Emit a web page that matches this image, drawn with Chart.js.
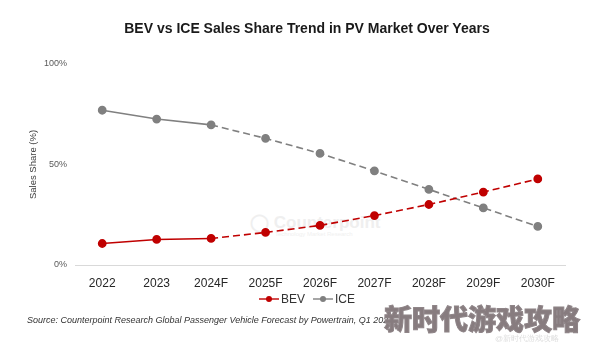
<!DOCTYPE html>
<html>
<head>
<meta charset="utf-8">
<script src="https://cdn.jsdelivr.net/npm/chart.js@4/dist/chart.umd.min.js"></script>
<style>
  html, body { margin: 0; padding: 0; background: #fff; }
  #wrap { position: relative; width: 594px; height: 343px; overflow: hidden; font-family: "Liberation Sans", Arial, sans-serif; }
  #chart { position: absolute; left: 0; top: 0; }
  .title { position: absolute; left: 0; width: 614px; top: 20px; text-align: center; font-weight: bold; font-size: 14px; color: #1a1a1a; }
  .legend { position: absolute; top: 292px; left: 259px; font-size: 12px; color: #333; display: flex; align-items: center; }
  .legend .item { display: flex; align-items: center; margin-right: 8px; }
  .legend canvas { margin-right: 2px; }
  .source { position: absolute; left: 27px; top: 315px; font-size: 9px; font-style: italic; color: #333; white-space: nowrap; }
  .logo { position: absolute; left: 250px; top: 212px; color: #efefef; font-weight: bold; font-size: 17px; }
  .logo small { display: block; font-size: 6px; font-weight: normal; margin-left: 25px; margin-top: -2px; color: #f0f0f0; }
  .wm { position: absolute; left: 384px; top: 298px; font-family: "Noto Sans CJK SC", sans-serif; font-weight: 900; font-size: 28px; color: #877c7f; -webkit-text-stroke: 1px #8f8588; white-space: nowrap; }
  .wm2 { position: absolute; left: 495px; top: 333px; font-size: 8px; color: #ddd; white-space: nowrap; }
</style>
</head>
<body>
<div id="wrap">
  <div class="logo">◯ Counterpoint<small>Technology Market Research</small></div>
  <canvas id="chart" width="594" height="343"></canvas>
  <div class="title">BEV vs ICE Sales Share Trend in PV Market Over Years</div>
  <div class="legend" id="legend"></div>
  <div class="source">Source: Counterpoint Research Global Passenger Vehicle Forecast by Powertrain, Q1 2024</div>
  <div class="wm">新时代游戏攻略</div>
  <div class="wm2">@新时代游戏攻略</div>
</div>
<script>
// Chart data
const years = ['2022', '2023', '2024F', '2025F', '2026F', '2027F', '2028F', '2029F', '2030F'];
const bevShare = [10.7, 12.7, 13.2, 16.2, 19.7, 24.6, 30.1, 36.3, 42.8];
const iceShare = [77.0, 72.6, 69.7, 63.0, 55.5, 46.8, 37.6, 28.4, 19.2];
const yTicks = [0, 50, 100];

const BEV_COLOR = '#C00000';
const ICE_COLOR = '#808080';
const LAST_ACTUAL = 2; // index of 2024F, dashed after this

function seriesStyle(color) {
  return {
    borderColor: color,
    backgroundColor: color,
    pointBackgroundColor: color,
    pointBorderColor: color,
    pointRadius: 3.6,
    pointHoverRadius: 3.6,
    borderWidth: 1.6,
    tension: 0,
    fill: false,
    segment: {
      borderDash: (ctx) => (ctx.p0DataIndex >= LAST_ACTUAL ? [7, 4] : undefined)
    }
  };
}

// small line+dot icon for the legend
function legendIcon(color) {
  const c = document.createElement('canvas');
  c.width = 20;
  c.height = 10;
  const g = c.getContext('2d');
  g.strokeStyle = color;
  g.lineWidth = 1.4;
  g.beginPath();
  g.moveTo(0, 5);
  g.lineTo(20, 5);
  g.stroke();
  g.fillStyle = color;
  g.beginPath();
  g.arc(10, 5, 3, 0, Math.PI * 2);
  g.fill();
  return c;
}

const legendEl = document.getElementById('legend');
[['BEV', BEV_COLOR], ['ICE', ICE_COLOR]].forEach(([name, color]) => {
  const item = document.createElement('div');
  item.className = 'item';
  item.appendChild(legendIcon(color));
  item.appendChild(document.createTextNode(name));
  legendEl.appendChild(item);
});

new Chart(document.getElementById('chart'), {
  type: 'line',
  data: {
    labels: years,
    datasets: [
      { label: 'BEV', data: bevShare, ...seriesStyle(BEV_COLOR) },
      { label: 'ICE', data: iceShare, ...seriesStyle(ICE_COLOR) }
    ]
  },
  options: {
    responsive: false,
    animation: false,
    layout: { padding: { top: 64, right: 29, bottom: 0, left: 0 } },
    plugins: {
      legend: { display: false },
      tooltip: { enabled: false },
      title: { display: false }
    },
    scales: {
      x: {
        offset: true,
        grid: { display: false },
        border: { display: true, color: '#d9d9d9', width: 1 },
        ticks: {
          padding: 3,
          color: '#262626',
          font: { family: '"Liberation Sans", Arial', size: 12 }
        },
        afterFit: (scale) => { scale.height = 78; }
      },
      y: {
        min: 0,
        max: 100,
        afterBuildTicks: (scale) => { scale.ticks = yTicks.map((v) => ({ value: v })); },
        grid: { display: false },
        border: { display: false },
        ticks: {
          padding: 0,
          color: '#595959',
          font: { family: '"Liberation Sans", Arial', size: 9 },
          callback: (value) => value + '%'
        },
        title: {
          display: true,
          text: 'Sales Share (%)',
          color: '#404040',
          padding: { top: 28, bottom: 0 },
          font: { family: '"Liberation Sans", Arial', size: 9.5 }
        },
        afterFit: (scale) => { scale.width = 75; }
      }
    }
  }
});
</script>
</body>
</html>
